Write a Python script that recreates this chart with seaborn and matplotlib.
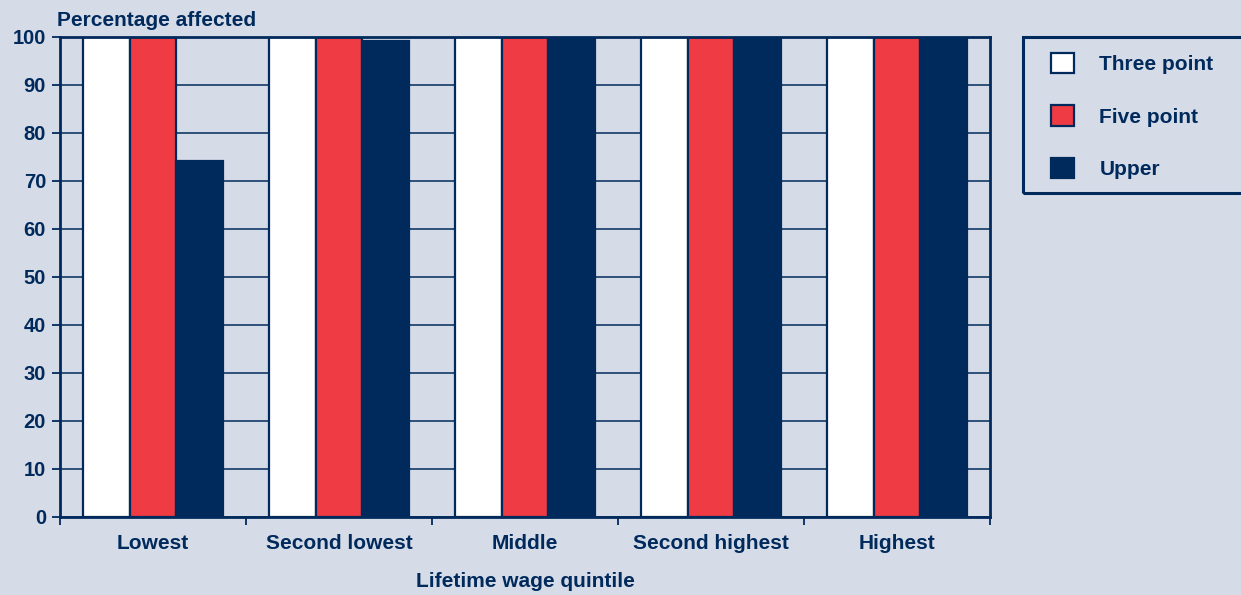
import matplotlib
matplotlib.use("Agg")
import matplotlib.pyplot as plt
from matplotlib.patches import Patch, Rectangle
import pandas as pd
import seaborn as sns

quintiles = ["Lowest", "Second lowest", "Middle", "Second highest", "Highest"]
three_point = [100, 100, 100, 100, 100]
five_point = [100, 100, 100, 100, 100]
upper = [74.2, 99.2, 100, 100, 100]
series_names = ["Three point", "Five point", "Upper"]
y_ticks = [0, 10, 20, 30, 40, 50, 60, 70, 80, 90, 100]

NAVY = "#002a5c"
RED = "#ef3b43"
WHITE = "#ffffff"
BG = "#d5dbe7"

df = pd.DataFrame({
    "quintile": quintiles * 3,
    "measure": [series_names[0]] * 5 + [series_names[1]] * 5 + [series_names[2]] * 5,
    "pct": three_point + five_point + upper,
})

sns.set_theme(style="white")
plt.rcParams["font.family"] = ["Liberation Sans", "DejaVu Sans"]
plt.rcParams["font.weight"] = "bold"

W, H = 1241, 595
fig = plt.figure(figsize=(W / 100, H / 100), dpi=100, facecolor=BG)
ax = fig.add_axes([60 / W, 1 - 517 / H, (990 - 60) / W, (517 - 37) / H])
ax.set_facecolor(BG)

palette = [WHITE, RED, NAVY]
sns.barplot(data=df, x="quintile", y="pct", hue="measure", order=quintiles,
            hue_order=series_names, palette=palette, saturation=1,
            width=0.75, edgecolor=NAVY, linewidth=1.6, legend=False, ax=ax,
            zorder=3, err_kws={"linewidth": 0})

ax.set_xlim(-0.5, len(quintiles) - 0.5)
ax.set_ylim(0, 100)
ax.set_yticks(y_ticks)
ax.set_yticklabels([str(t) for t in y_ticks], fontsize=14.5, fontweight="bold", color=NAVY)
ax.yaxis.grid(True, color=NAVY, linewidth=1.1, zorder=0)
ax.xaxis.grid(False)
ax.set_axisbelow(True)

ax.set_xticks(range(len(quintiles)))
ax.set_xticklabels(quintiles, fontsize=15, fontweight="bold", color=NAVY)
ax.set_xticks([i - 0.5 for i in range(len(quintiles) + 1)], minor=True)
ax.tick_params(axis="x", which="major", length=0, pad=12)
ax.tick_params(axis="x", which="minor", length=6, width=1.3, color=NAVY, direction="out", bottom=True)
ax.tick_params(axis="y", which="major", length=6, width=1.3, color=NAVY, direction="out", left=True, pad=4)

for s in ax.spines.values():
    s.set_color(NAVY)
    s.set_linewidth(2)
    s.set_zorder(5)

ax.set_xlabel("Lifetime wage quintile", fontsize=15, fontweight="bold", color=NAVY, labelpad=14)
ax.set_ylabel("")

fig.text(57 / W, 1 - 26 / H, "Percentage affected", fontsize=15, fontweight="bold",
         color=NAVY, ha="left", va="baseline")

# Legend frame runs off the right edge of the figure
frame = Rectangle((1023 / W, 1 - 193 / H), (1260 - 1023) / W, (193 - 37) / H,
                  transform=fig.transFigure, facecolor="none", edgecolor=NAVY,
                  linewidth=2.2, clip_on=False)
fig.patches.append(frame)

handles = [Patch(facecolor=c, edgecolor=NAVY, linewidth=1.6) for c in palette]
fig.legend(handles, series_names, loc="upper left",
           bbox_to_anchor=(1051 / W, 1 - 53 / H), frameon=False,
           prop={"size": 15, "weight": "bold"}, labelcolor=NAVY,
           handlelength=1.12, handleheight=1.12, handletextpad=1.2,
           labelspacing=1.5, borderpad=0, borderaxespad=0)

fig.savefig("out.png", dpi=100, facecolor=BG)
